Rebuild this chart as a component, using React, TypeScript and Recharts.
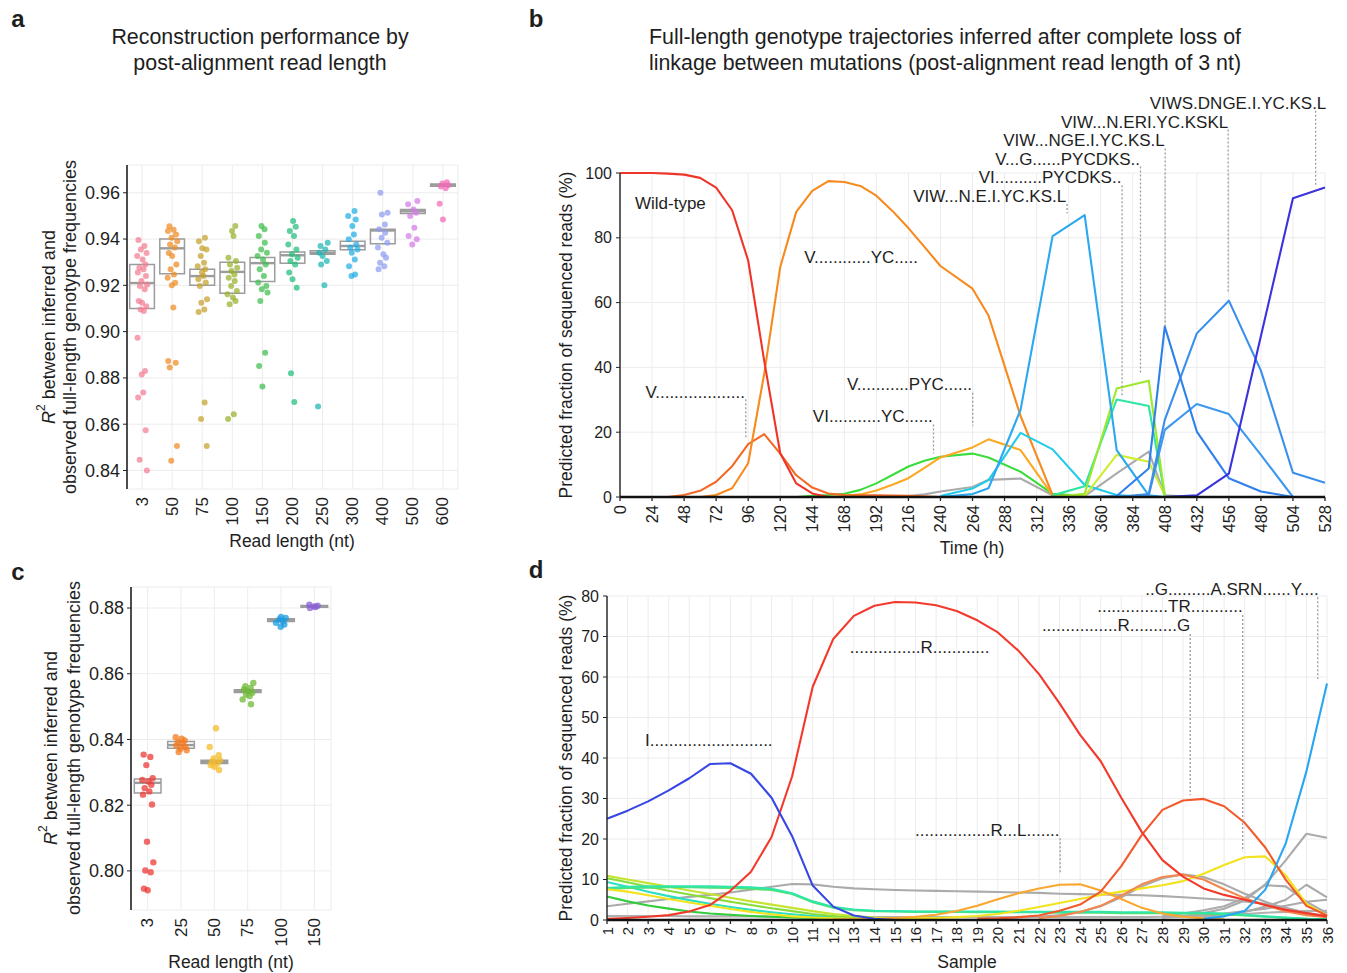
import React from 'react';
import {
  ScatterChart, Scatter, LineChart, Line, XAxis, YAxis, CartesianGrid,
  ReferenceArea, ReferenceLine, ReferenceDot,
} from 'recharts';

const FONT = '"Liberation Sans", Arial, Helvetica, sans-serif';
const INK = '#1e1e1e';
const GRID = '#ECECEC';
const PTR = '#9b9b9b';

// ---------------- Panel a data ----------------
const A_CATS = ['3', '50', '75', '100', '150', '200', '250', '300', '400', '500', '600'];
const A_COLORS = ['#F47D91', '#EE8A22', '#C6A12B', '#95B22C', '#3DBE4C', '#1FBE7C', '#1DB6B3', '#22AEE6', '#8F9DF0', '#D47AE8', '#F26AB6'];
const A_3 = [0.9396, 0.937, 0.9355, 0.934, 0.9327, 0.9312, 0.929, 0.9276, 0.9269, 0.9255, 0.924, 0.9219, 0.9204, 0.9197, 0.9183, 0.9132, 0.9125, 0.911, 0.9096, 0.9089, 0.8974, 0.883, 0.8815, 0.8737, 0.8715, 0.8574, 0.8446, 0.84];
const A_50 = [0.9455, 0.944, 0.9435, 0.942, 0.9406, 0.9391, 0.9377, 0.9363, 0.934, 0.9327, 0.929, 0.927, 0.9247, 0.9233, 0.9211, 0.92, 0.9104, 0.8873, 0.8866, 0.8845, 0.8506, 0.8442];
const A_75 = [0.9406, 0.9391, 0.936, 0.9355, 0.9327, 0.9298, 0.9283, 0.9269, 0.9255, 0.924, 0.9226, 0.9212, 0.9197, 0.914, 0.9125, 0.9096, 0.9085, 0.8694, 0.8622, 0.8506];
const A_100 = [0.9456, 0.9435, 0.9413, 0.9319, 0.9305, 0.929, 0.9276, 0.9262, 0.9247, 0.9233, 0.9219, 0.9197, 0.9176, 0.9161, 0.9147, 0.9132, 0.9118, 0.8643, 0.8622];
const A_150 = [0.9456, 0.9442, 0.9413, 0.9384, 0.9355, 0.9341, 0.9327, 0.9312, 0.929, 0.9269, 0.924, 0.9212, 0.9197, 0.9183, 0.9169, 0.9132, 0.8909, 0.8852, 0.8763];
const A_200 = [0.9478, 0.9453, 0.9435, 0.9413, 0.9377, 0.9355, 0.9334, 0.9319, 0.9305, 0.929, 0.9255, 0.9226, 0.919, 0.882, 0.8696];
const A_250 = [0.9384, 0.937, 0.9355, 0.9341, 0.9327, 0.9305, 0.929, 0.92, 0.8676];
const A_300 = [0.9521, 0.95, 0.9485, 0.9456, 0.942, 0.9399, 0.9377, 0.9363, 0.9355, 0.9341, 0.9312, 0.9283, 0.9247, 0.924];
const A_400 = [0.96, 0.9514, 0.9506, 0.9463, 0.9442, 0.9427, 0.9406, 0.9384, 0.9363, 0.9334, 0.9319, 0.9298, 0.9283, 0.9269];
const A_500 = [0.9564, 0.955, 0.9528, 0.9514, 0.95, 0.9449, 0.9413, 0.9399, 0.9377];
const A_600 = [0.9645, 0.964, 0.9633, 0.9627, 0.962, 0.9553, 0.9485];
const A_VALUES = [A_3, A_50, A_75, A_100, A_150, A_200, A_250, A_300, A_400, A_500, A_600];
const A_Q1 = [0.910, 0.925, 0.920, 0.9166, 0.9217, 0.9295, 0.9334, 0.9354, 0.938, 0.951, 0.9628];
const A_MED = [0.921, 0.936, 0.924, 0.9258, 0.9296, 0.933, 0.934, 0.937, 0.9437, 0.952, 0.9633];
const A_Q3 = [0.929, 0.940, 0.927, 0.930, 0.932, 0.9344, 0.935, 0.939, 0.9442, 0.9528, 0.9638];
const A_YTICKS = [0.84, 0.86, 0.88, 0.9, 0.92, 0.94, 0.96];

// ---------------- Panel c data ----------------
const C_CATS = ['3', '25', '50', '75', '100', '150'];
const C_COLORS = ['#EC3A35', '#F47A1F', '#F4BC2A', '#6DBA35', '#1A9BE0', '#8A63D2'];
const C_3 = [0.8354, 0.8347, 0.8322, 0.8282, 0.8277, 0.8272, 0.8262, 0.8252, 0.8242, 0.8232, 0.8202, 0.8089, 0.8026, 0.8001, 0.7996, 0.7946, 0.7941];
const C_25 = [0.8407, 0.8402, 0.8397, 0.8392, 0.8387, 0.8382, 0.8377, 0.8372, 0.8367, 0.8362];
const C_50 = [0.8434, 0.8377, 0.8352, 0.8342, 0.8337, 0.8332, 0.8327, 0.8322, 0.8317, 0.8307];
const C_75 = [0.8572, 0.8562, 0.8557, 0.8552, 0.8547, 0.8542, 0.8537, 0.8532, 0.8522, 0.8507];
const C_100 = [0.8773, 0.877, 0.8765, 0.876, 0.8755, 0.875, 0.8743];
const C_150 = [0.881, 0.8807, 0.8805, 0.8803, 0.88];
const C_VALUES = [C_3, C_25, C_50, C_75, C_100, C_150];
const C_Q1 = [0.8237, 0.8373, 0.8327, 0.8543, 0.8759, 0.8802];
const C_MED = [0.8268, 0.8383, 0.8332, 0.8547, 0.8763, 0.8805];
const C_Q3 = [0.828, 0.8394, 0.8337, 0.8551, 0.8767, 0.8808];
const C_YTICKS = [0.8, 0.82, 0.84, 0.86, 0.88];

// jitter offsets (horizontal position only)
const JITTER = [-0.12, 0.08, -0.04, 0.15, -0.16, 0.02, 0.11, -0.09, 0.05, -0.14, 0.13, -0.02, 0.17, -0.07, 0.09, -0.11, 0.0, 0.14, -0.05, 0.06, -0.15, 0.1, -0.01, 0.04, -0.13, 0.12, -0.08, 0.16, -0.03, 0.07];

// ---------------- Panel b data ----------------
const B_XTICKS = [0, 24, 48, 72, 96, 120, 144, 168, 192, 216, 240, 264, 288, 312, 336, 360, 384, 408, 432, 456, 480, 504, 528];
const B_YTICKS = [0, 20, 40, 60, 80, 100];

const B_GRAY_T = [204, 216, 228, 240, 264, 276, 300, 324, 348, 372, 396, 408, 432];
const B_GRAY_V = [0, 0.3, 0.8, 1.7, 3.1, 5.3, 5.7, 0.5, 0.3, 7.3, 14, 0.5, 0];
const B_VIYC_T = [132, 144, 156, 168, 180, 192, 204, 216, 228, 240, 264, 276, 300, 324, 348];
const B_VIYC_V = [0, 0.4, 0.6, 1, 2.2, 4.2, 6.8, 9.4, 11.2, 12.4, 13.4, 12.2, 7.8, 1, 0.3];
const B_VPYC_T = [156, 168, 180, 192, 204, 216, 228, 240, 264, 276, 300, 324];
const B_VPYC_V = [0, 0.3, 0.8, 2, 3.8, 5.8, 9, 12.2, 15.3, 17.8, 14.5, 0.5];
const B_V_T = [36, 48, 60, 72, 84, 96, 108, 120, 132, 144, 156, 168, 192, 216, 240];
const B_V_V = [0, 0.6, 1.9, 4.7, 9.5, 16.3, 19.4, 13.4, 6.7, 2.9, 1.1, 0.6, 0.5, 0.4, 0];
const B_VYC_T = [60, 72, 84, 96, 108, 120, 132, 144, 156, 168, 180, 192, 204, 216, 228, 240, 264, 276, 300, 324, 348];
const B_VYC_V = [0, 0.6, 2.7, 10.4, 38, 71, 88, 94.5, 97.5, 97.2, 96, 93, 88.3, 83, 77.2, 71.3, 64.3, 56, 25, 0.6, 0];
const B_WT_T = [0, 12, 24, 36, 48, 60, 72, 84, 96, 108, 120, 132, 144, 156];
const B_WT_V = [100, 100, 100, 99.8, 99.5, 98.5, 95.5, 88.5, 73, 42, 13.5, 4.2, 1.1, 0];
const B_CYAN_T = [240, 264, 276, 300, 324, 348, 372, 396];
const B_CYAN_V = [0.3, 2.6, 5.2, 19.8, 14.7, 3.7, 0.6, 0];
const B_YG_T = [324, 348, 372, 396, 408];
const B_YG_V = [0, 0.3, 13, 10.9, 0.5];
const B_TEAL_T = [324, 348, 372, 396, 408];
const B_TEAL_V = [0.5, 3.3, 30.1, 28.1, 0.5];
const B_LIME_T = [324, 348, 372, 396, 408];
const B_LIME_V = [0, 1, 33.5, 35.9, 0.5];
const B_LB_T = [240, 264, 276, 300, 324, 348, 372, 396, 408];
const B_LB_V = [0, 0.9, 2.7, 26.9, 80.5, 87, 14.5, 0.5, 0];
const B_B28_T = [372, 396, 408, 432, 456, 480, 504];
const B_B28_V = [0, 0.5, 20.7, 28.7, 25.6, 13, 0];
const B_B60_T = [372, 396, 408, 432, 456, 480, 504, 528];
const B_B60_V = [0, 0.9, 23.8, 50.5, 60.6, 39, 7.5, 4.4];
const B_B52_T = [348, 372, 396, 408, 432, 456, 480, 504];
const B_B52_V = [0, 0.3, 8.8, 52.6, 20.2, 5.8, 1.7, 0];
const B_IND_T = [408, 432, 456, 504, 528];
const B_IND_V = [0, 0.5, 7.2, 92.2, 95.5];

const B_NOTE_TEXT = ['Wild-type', 'V............YC.....', 'V...................', 'VI...........YC......', 'V...........PYC......', 'VIW...N.E.I.YC.KS.L', 'VI..........PYCDKS..', 'V...G......PYCDKS..', 'VIW...NGE.I.YC.KS.L', 'VIW...N.ERI.YC.KSKL', 'VIWS.DNGE.I.YC.KS.L'];
const B_NOTE_X = [11.2, 138, 93.6, 234.3, 263.7, 334.2, 375.5, 389.5, 408, 455.5, 529];
const B_NOTE_Y = [90.7, 73.8, 32.4, 24.7, 34.6, 92.8, 98.5, 104.3, 109.9, 115.7, 121.6];
const B_NOTE_ANCHOR = ['start', 'start', 'end', 'end', 'end', 'end', 'end', 'end', 'end', 'end', 'end'];
const B_PTR_X = [94.2, 234.8, 264.2, 334.8, 376, 389.8, 408.3, 455.5, 521];
const B_PTR_TOP = [30.2, 22.4, 32.2, 90.4, 96.2, 102, 107.6, 113.4, 119.2];
const B_PTR_BOTTOM = [18, 13.4, 22, 87.6, 31, 38, 52.8, 63, 96];

// ---------------- Panel d data ----------------
const D_SAMPLES = [1, 2, 3, 4, 5, 6, 7, 8, 9, 10, 11, 12, 13, 14, 15, 16, 17, 18, 19, 20, 21, 22, 23, 24, 25, 26, 27, 28, 29, 30, 31, 32, 33, 34, 35, 36];
const D_YTICKS = [0, 10, 20, 30, 40, 50, 60, 70, 80];

const D_GRAY_LOW = [1, 1, 1, 1, 0.9, 0.9, 0.9, 0.9, 0.8, 0.8, 0.8, 0.7, 0.7, 0.7, 0.7, 0.7, 0.7, 0.7, 0.7, 0.7, 0.7, 0.7, 0.7, 0.7, 0.7, 0.7, 0.7, 0.8, 0.9, 1, 1.2, 1.5, 1.8, 2, 2.2, 2.3];
const D_GRAY1 = [3.4, 4, 4.6, 5.2, 5.7, 6.2, 6.8, 7.5, 8.2, 8.9, 8.8, 8.2, 7.8, 7.6, 7.4, 7.3, 7.2, 7.1, 7, 6.9, 6.8, 6.7, 6.5, 6.4, 6.3, 6.2, 6.1, 5.9, 5.6, 5.3, 5, 4.6, 4, 3, 1.8, 1];
const D_GRAYA_START = 20;
const D_GRAYA = [0.5, 0.6, 0.8, 1.2, 2, 3.4, 5.6, 8.3, 10.3, 11.3, 10.6, 8.8, 6.5, 4.5, 2.8, 1.5, 0.8];
const D_GRAYB_START = 28;
const D_GRAYB = [0.7, 1, 1.7, 2.8, 4.8, 8.8, 14.8, 21.3, 20.3];
const D_GRAYC_START = 28;
const D_GRAYC = [1, 1.6, 2.4, 3.4, 5.4, 8.6, 8.3, 4.5, 1.7];
const D_GRAYD_START = 30;
const D_GRAYD = [0.8, 1.2, 2, 3.3, 5, 8.7, 5.6];
const D_GRAYE_START = 28;
const D_GRAYE = [0.6, 0.9, 1.2, 1.6, 2.2, 2.8, 3.5, 4.5, 5];
const D_GREEN = [5.8, 4.6, 3.6, 2.8, 2.1, 1.6, 1.3, 1, 0.8, 0.6, 0.5, 0.4, 0.3];
const D_AQUA = [9.4, 8.2, 7, 5.9, 4.9, 4, 3.2, 2.5, 1.9, 1.4, 1, 0.7, 0.5, 0.4, 0.3];
const D_LG = [10.3, 9.3, 8.2, 7.2, 6.3, 5.4, 4.5, 3.7, 2.9, 2.2, 1.5, 1, 0.6, 0.4, 0.3];
const D_YG = [10.9, 10, 9.1, 8.2, 7.3, 6.4, 5.5, 4.6, 3.8, 3, 2.2, 1.5, 1, 0.6, 0.4, 0.3];
const D_GREENFLAT = [7.6, 7.9, 8, 8.1, 8.1, 8, 7.9, 7.7, 7.4, 6.4, 4.4, 3, 2.4, 2.2, 2.1, 2, 2, 2, 1.9, 1.9, 1.9, 1.9, 1.8, 1.8, 1.8, 1.7, 1.7, 1.7, 1.6, 1.6, 1.4, 1.1, 0.8, 0.5, 0.3, 0.2];
const D_AQUAFLAT = [7.9, 8.2, 8.3, 8.3, 8.3, 8.3, 8.2, 8.1, 7.7, 6.6, 4.6, 3.2, 2.6, 2.3, 2.2, 2.1, 2.1, 2.1, 2.1, 2.1, 2, 2, 2, 2, 2, 1.9, 1.9, 1.9, 1.8, 1.8, 1.6, 1.3, 0.9, 0.6, 0.3, 0.2];
const D_YELLOW = [7.6, 7, 6.1, 5.2, 4.3, 3.5, 2.7, 2, 1.4, 0.9, 0.6, 0.4, 0.3, 0.3, 0.3, 0.4, 0.5, 0.7, 1, 1.5, 2.3, 3.2, 4.2, 5.2, 6.2, 7, 7.8, 8.6, 9.6, 11.4, 13.6, 15.5, 15.7, 11, 4, 1.1];
const D_ORANGE_START = 12;
const D_ORANGE = [0.2, 0.2, 0.3, 0.5, 0.8, 1.3, 2.2, 3.5, 5.1, 6.6, 7.8, 8.7, 8.8, 7.3, 5.2, 3, 1.6, 0.8, 0.4, 0.2];
const D_SALMON_START = 22;
const D_SALMON = [0.5, 1, 2, 3.5, 6, 8.8, 10.6, 11.2, 10, 7.6, 5.4, 3.7, 2.1, 1.2, 0.7];
const D_REDOR_START = 19;
const D_REDOR = [0.3, 0.4, 0.7, 1.1, 2.3, 3.8, 7, 13.3, 21, 27.2, 29.5, 29.9, 28.1, 24, 17.9, 9.9, 3.5, 1.1];
const D_RED = [0.3, 0.5, 0.8, 1.2, 2.1, 3.7, 7.2, 11.9, 20.5, 35.5, 57.6, 69.4, 75.1, 77.6, 78.5, 78.4, 77.7, 76.3, 74, 71, 66.5, 60.7, 53.5, 45.7, 39.2, 30.2, 21.7, 14.8, 10.7, 7.8, 6.2, 5, 3.7, 2.5, 1.7, 0.9];
const D_BLUE = [25, 27, 29.3, 32, 35, 38.5, 38.7, 36.1, 30.2, 20.7, 8.5, 3.3, 1.1, 0.3, 0];
const D_LB_START = 30;
const D_LB = [0.3, 0.9, 2.2, 7.5, 19, 36.7, 58.4];

const D_NOTE_TEXT = ['I..........................', '...............R............', '................R...L.......', '................R..........G', '...............TR...........', '..G.........A.SRN......Y....'];
const D_NOTE_X = [2.85, 12.8, 23.0, 29.35, 31.9, 35.6];
const D_NOTE_Y = [44.2, 67.4, 22.2, 72.6, 77.3, 81.7];
const D_NOTE_ANCHOR = ['start', 'start', 'end', 'end', 'end', 'end'];
const D_PTR_X = [23.03, 29.35, 31.9, 35.55];
const D_PTR_TOP = [20.2, 70.6, 75.3, 79.7];
const D_PTR_BOTTOM = [11.3, 30.8, 17, 59.5];

// ---------------- helpers ----------------
const makeRotTick = (labels: string[] | null, fontSize: number) => (props: any) => {
  const { x, y, payload } = props;
  const v = payload.value;
  const txt = labels ? labels[Math.round(v) - 1] : String(v);
  return (
    <text x={x} y={y} transform={`rotate(-90 ${x} ${y})`} textAnchor="end" dominantBaseline="central"
      fontSize={fontSize} fill={INK} fontFamily={FONT}>{txt}</text>
  );
};

const pairs = (t: number[], v: number[]) => t.map((tt, i) => ({ t: tt, v: v[i] }));
const fromStart = (start: number, v: number[]) => v.map((vv, i) => ({ t: D_SAMPLES[start - 1 + i], v: vv }));

const noteShape = (text: string, anchor: string) => (p: any) => (
  <text x={p.cx} y={p.cy} textAnchor={anchor as any} dominantBaseline="central" fontSize={17} fill={INK} fontFamily={FONT}>{text}</text>
);

// ---------------- Panels ----------------
function PanelA() {
  const pts = A_VALUES.map((vals, i) => vals.map((v, k) => ({ x: i + 1 + JITTER[(k + 7 * i) % JITTER.length], y: v })));
  return (
    <ScatterChart width={470} height={560} margin={{ top: 165, right: 12, bottom: 0, left: 0 }}>
      <CartesianGrid stroke={GRID} strokeWidth={1} />
      <XAxis type="number" dataKey="x" domain={[0.5, 11.5]} ticks={A_CATS.map((_, i) => i + 1)} interval={0}
        axisLine={false} tickLine={false} tickSize={4} tickMargin={4} height={71}
        tick={makeRotTick(A_CATS, 17)} allowDataOverflow />
      <YAxis type="number" dataKey="y" domain={[0.832, 0.972]} ticks={A_YTICKS} interval={0} width={127}
        allowDataOverflow tickFormatter={(v: number) => v.toFixed(2)}
        axisLine={{ stroke: '#222', strokeWidth: 1.6 }} tickLine={{ stroke: '#222' }} tickSize={4} tickMargin={3}
        tick={{ fontSize: 18, fill: INK, fontFamily: FONT }} />
      {A_CATS.map((_, i) => (
        <ReferenceArea key={'ab' + i} x1={i + 1 - 0.41} x2={i + 1 + 0.41} y1={A_Q1[i]} y2={A_Q3[i]}
          fill="#ffffff" fillOpacity={0} stroke="#9c9c9c" strokeWidth={1.5} ifOverflow="visible" />
      ))}
      {A_CATS.map((_, i) => (
        <ReferenceLine key={'am' + i} segment={[{ x: i + 1 - 0.41, y: A_MED[i] }, { x: i + 1 + 0.41, y: A_MED[i] }]}
          stroke="#9c9c9c" strokeWidth={2.4} ifOverflow="visible" />
      ))}
      {pts.map((d, i) => (
        <Scatter key={'as' + i} data={d} isAnimationActive={false}
          shape={(p: any) => <circle cx={p.cx} cy={p.cy} r={3} fill={A_COLORS[i]} fillOpacity={0.72} />} />
      ))}
    </ScatterChart>
  );
}

function PanelC() {
  const pts = C_VALUES.map((vals, i) => vals.map((v, k) => ({ x: i + 1 + JITTER[(k + 4 * i) % JITTER.length], y: v })));
  return (
    <ScatterChart width={350} height={413} margin={{ top: 27, right: 19, bottom: 0, left: 0 }}>
      <CartesianGrid stroke={GRID} strokeWidth={1} />
      <XAxis type="number" dataKey="x" domain={[0.5, 6.5]} ticks={C_CATS.map((_, i) => i + 1)} interval={0}
        axisLine={false} tickLine={false} tickSize={4} tickMargin={4} height={63}
        tick={makeRotTick(C_CATS, 17)} allowDataOverflow />
      <YAxis type="number" dataKey="y" domain={[0.7881, 0.8864]} ticks={C_YTICKS} interval={0} width={131}
        allowDataOverflow tickFormatter={(v: number) => v.toFixed(2)}
        axisLine={{ stroke: '#222', strokeWidth: 1.6 }} tickLine={{ stroke: '#222' }} tickSize={4} tickMargin={3}
        tick={{ fontSize: 18, fill: INK, fontFamily: FONT }} />
      {C_CATS.map((_, i) => (
        <ReferenceArea key={'cb' + i} x1={i + 1 - 0.4} x2={i + 1 + 0.4} y1={C_Q1[i]} y2={C_Q3[i]}
          fill="#ffffff" fillOpacity={0} stroke="#9c9c9c" strokeWidth={1.5} ifOverflow="visible" />
      ))}
      {C_CATS.map((_, i) => (
        <ReferenceLine key={'cm' + i} segment={[{ x: i + 1 - 0.4, y: C_MED[i] }, { x: i + 1 + 0.4, y: C_MED[i] }]}
          stroke="#9c9c9c" strokeWidth={2.4} ifOverflow="visible" />
      ))}
      {pts.map((d, i) => (
        <Scatter key={'cs' + i} data={d} isAnimationActive={false}
          shape={(p: any) => <circle cx={p.cx} cy={p.cy} r={3.2} fill={C_COLORS[i]} fillOpacity={0.75} />} />
      ))}
    </ScatterChart>
  );
}

const B_SERIES = [
  { d: pairs(B_GRAY_T, B_GRAY_V), c: '#ABABAB' },
  { d: pairs(B_VIYC_T, B_VIYC_V), c: '#3CDC3C' },
  { d: pairs(B_VPYC_T, B_VPYC_V), c: '#FBA822' },
  { d: pairs(B_V_T, B_V_V), c: '#F26A25' },
  { d: pairs(B_VYC_T, B_VYC_V), c: '#F78A1E' },
  { d: pairs(B_WT_T, B_WT_V), c: '#EF3529' },
  { d: pairs(B_CYAN_T, B_CYAN_V), c: '#22CBEB' },
  { d: pairs(B_YG_T, B_YG_V), c: '#CFEC2E' },
  { d: pairs(B_TEAL_T, B_TEAL_V), c: '#2EE6A2' },
  { d: pairs(B_LIME_T, B_LIME_V), c: '#9EE82C' },
  { d: pairs(B_LB_T, B_LB_V), c: '#2CA8F0' },
  { d: pairs(B_B28_T, B_B28_V), c: '#3E98EE' },
  { d: pairs(B_B60_T, B_B60_V), c: '#3A8FEC' },
  { d: pairs(B_B52_T, B_B52_V), c: '#2F80EA' },
  { d: pairs(B_IND_T, B_IND_V), c: '#3A33DD' },
];

function PanelB() {
  return (
    <LineChart width={800} height={560} margin={{ top: 173, right: 15, bottom: 0, left: 30 }}>
      <CartesianGrid stroke={GRID} strokeWidth={1} />
      <XAxis type="number" dataKey="t" domain={[0, 528]} ticks={B_XTICKS} interval={0} height={63}
        axisLine={{ stroke: '#111', strokeWidth: 2.6 }} tickLine={{ stroke: '#222', strokeWidth: 1.3 }} tickSize={4} tickMargin={4}
        tick={makeRotTick(null, 16.5)} allowDuplicatedCategory={false} />
      <YAxis type="number" domain={[0, 100]} ticks={B_YTICKS} interval={0} width={50}
        axisLine={{ stroke: '#222', strokeWidth: 1.4 }} tickLine={{ stroke: '#222' }} tickSize={4} tickMargin={4}
        tick={{ fontSize: 16, fill: INK, fontFamily: FONT }} />
      {B_SERIES.map((s, i) => (
        <Line key={'bl' + i} data={s.d} dataKey="v" type="linear" stroke={s.c} strokeWidth={2.1} dot={false}
          activeDot={false} isAnimationActive={false} strokeLinejoin="round" />
      ))}
      {B_PTR_X.map((x, i) => (
        <ReferenceLine key={'bp' + i} segment={[{ x, y: B_PTR_TOP[i] }, { x, y: B_PTR_BOTTOM[i] }]}
          stroke={PTR} strokeWidth={1.3} strokeDasharray="2 2" ifOverflow="visible" />
      ))}
      {B_NOTE_TEXT.map((t, i) => (
        <ReferenceDot key={'bn' + i} x={B_NOTE_X[i]} y={B_NOTE_Y[i]} r={0} ifOverflow="visible"
          shape={noteShape(t, B_NOTE_ANCHOR[i])} />
      ))}
    </LineChart>
  );
}

const D_SERIES = [
  { d: fromStart(1, D_GRAY_LOW), c: '#B0B0B0' },
  { d: fromStart(1, D_GRAY1), c: '#ABABAB' },
  { d: fromStart(D_GRAYA_START, D_GRAYA), c: '#ABABAB' },
  { d: fromStart(D_GRAYB_START, D_GRAYB), c: '#ABABAB' },
  { d: fromStart(D_GRAYC_START, D_GRAYC), c: '#ABABAB' },
  { d: fromStart(D_GRAYD_START, D_GRAYD), c: '#ABABAB' },
  { d: fromStart(D_GRAYE_START, D_GRAYE), c: '#ABABAB' },
  { d: fromStart(1, D_GREEN), c: '#32CC3C' },
  { d: fromStart(1, D_AQUA), c: '#2DE0C0' },
  { d: fromStart(1, D_LG), c: '#86DD3A' },
  { d: fromStart(1, D_YG), c: '#C4E42F' },
  { d: fromStart(1, D_GREENFLAT), c: '#55E070' },
  { d: fromStart(1, D_AQUAFLAT), c: '#2FE6A8' },
  { d: fromStart(1, D_YELLOW), c: '#F2E31C' },
  { d: fromStart(D_ORANGE_START, D_ORANGE), c: '#F9A72E' },
  { d: fromStart(D_SALMON_START, D_SALMON), c: '#F4874E' },
  { d: fromStart(D_REDOR_START, D_REDOR), c: '#F25A2A' },
  { d: fromStart(1, D_RED), c: '#F2392B' },
  { d: fromStart(1, D_BLUE), c: '#3847E4' },
  { d: fromStart(D_LB_START, D_LB), c: '#28A6F2' },
];

function PanelD() {
  return (
    <LineChart width={800} height={413} margin={{ top: 36, right: 13, bottom: 0, left: 17 }}>
      <CartesianGrid stroke={GRID} strokeWidth={1} />
      <XAxis type="number" dataKey="t" domain={[1, 36]} ticks={D_SAMPLES} interval={0} height={53}
        axisLine={{ stroke: '#111', strokeWidth: 2.6 }} tickLine={{ stroke: '#222', strokeWidth: 1.3 }} tickSize={4} tickMargin={3}
        tick={makeRotTick(null, 15)} />
      <YAxis type="number" domain={[0, 80]} ticks={D_YTICKS} interval={0} width={50}
        axisLine={{ stroke: '#222', strokeWidth: 1.4 }} tickLine={{ stroke: '#222' }} tickSize={4} tickMargin={4}
        tick={{ fontSize: 16, fill: INK, fontFamily: FONT }} />
      {D_SERIES.map((s, i) => (
        <Line key={'dl' + i} data={s.d} dataKey="v" type="linear" stroke={s.c} strokeWidth={2.1} dot={false}
          activeDot={false} isAnimationActive={false} strokeLinejoin="round" />
      ))}
      {D_PTR_X.map((x, i) => (
        <ReferenceLine key={'dp' + i} segment={[{ x, y: D_PTR_TOP[i] }, { x, y: D_PTR_BOTTOM[i] }]}
          stroke={PTR} strokeWidth={1.3} strokeDasharray="2 2" ifOverflow="visible" />
      ))}
      {D_NOTE_TEXT.map((t, i) => (
        <ReferenceDot key={'dn' + i} x={D_NOTE_X[i]} y={D_NOTE_Y[i]} r={0} ifOverflow="visible"
          shape={noteShape(t, D_NOTE_ANCHOR[i])} />
      ))}
    </LineChart>
  );
}

function R2Label({ x1, x2, cy }: { x1: number; x2: number; cy: number }) {
  return (
    <g fontSize={18} fill={INK} fontFamily={FONT}>
      <text transform={`translate(${x1} ${cy}) rotate(-90)`} textAnchor="middle" dominantBaseline="central">
        <tspan fontStyle="italic">R</tspan>
        <tspan fontSize={12} dy={-8}>2</tspan>
        <tspan dy={8}> between inferred and</tspan>
      </text>
      <text transform={`translate(${x2} ${cy}) rotate(-90)`} textAnchor="middle" dominantBaseline="central">
        observed full-length genotype frequencies
      </text>
    </g>
  );
}

function Overlay() {
  const t = { fill: INK, fontFamily: FONT } as const;
  return (
    <svg width={1347} height={973} style={{ position: 'absolute', left: 0, top: 0, pointerEvents: 'none' }}>
      <g {...t} fontWeight="bold" fontSize={24} textAnchor="middle" dominantBaseline="central">
        <text x={18} y={18}>a</text>
        <text x={536} y={18}>b</text>
        <text x={18} y={571}>c</text>
        <text x={536} y={569}>d</text>
      </g>
      <g {...t} fontSize={21.4} textAnchor="middle" dominantBaseline="central">
        <text x={260} y={37}>Reconstruction performance by</text>
        <text x={260} y={63}>post-alignment read length</text>
        <text x={945} y={37}>Full-length genotype trajectories inferred after complete loss of</text>
        <text x={945} y={63}>linkage between mutations (post-alignment read length of 3 nt)</text>
      </g>
      <g {...t} fontSize={17.5} textAnchor="middle" dominantBaseline="central">
        <text x={292} y={541}>Read length (nt)</text>
        <text x={231} y={962}>Read length (nt)</text>
        <text x={972} y={548}>Time (h)</text>
        <text x={967} y={962}>Sample</text>
        <text transform="translate(566 335) rotate(-90)">Predicted fraction of sequenced reads (%)</text>
        <text transform="translate(566 758) rotate(-90)">Predicted fraction of sequenced reads (%)</text>
      </g>
      <R2Label x1={49} x2={70} cy={327} />
      <R2Label x1={51} x2={74} cy={748} />
    </svg>
  );
}

export default function App() {
  return (
    <div style={{ position: 'absolute', left: 0, top: 0, width: 1347, height: 973, background: '#fff', fontFamily: FONT, overflow: 'hidden' }}>
      <div style={{ position: 'absolute', left: 0, top: 0 }}><PanelA /></div>
      <div style={{ position: 'absolute', left: 540, top: 0 }}><PanelB /></div>
      <div style={{ position: 'absolute', left: 0, top: 560 }}><PanelC /></div>
      <div style={{ position: 'absolute', left: 540, top: 560 }}><PanelD /></div>
      <Overlay />
    </div>
  );
}
